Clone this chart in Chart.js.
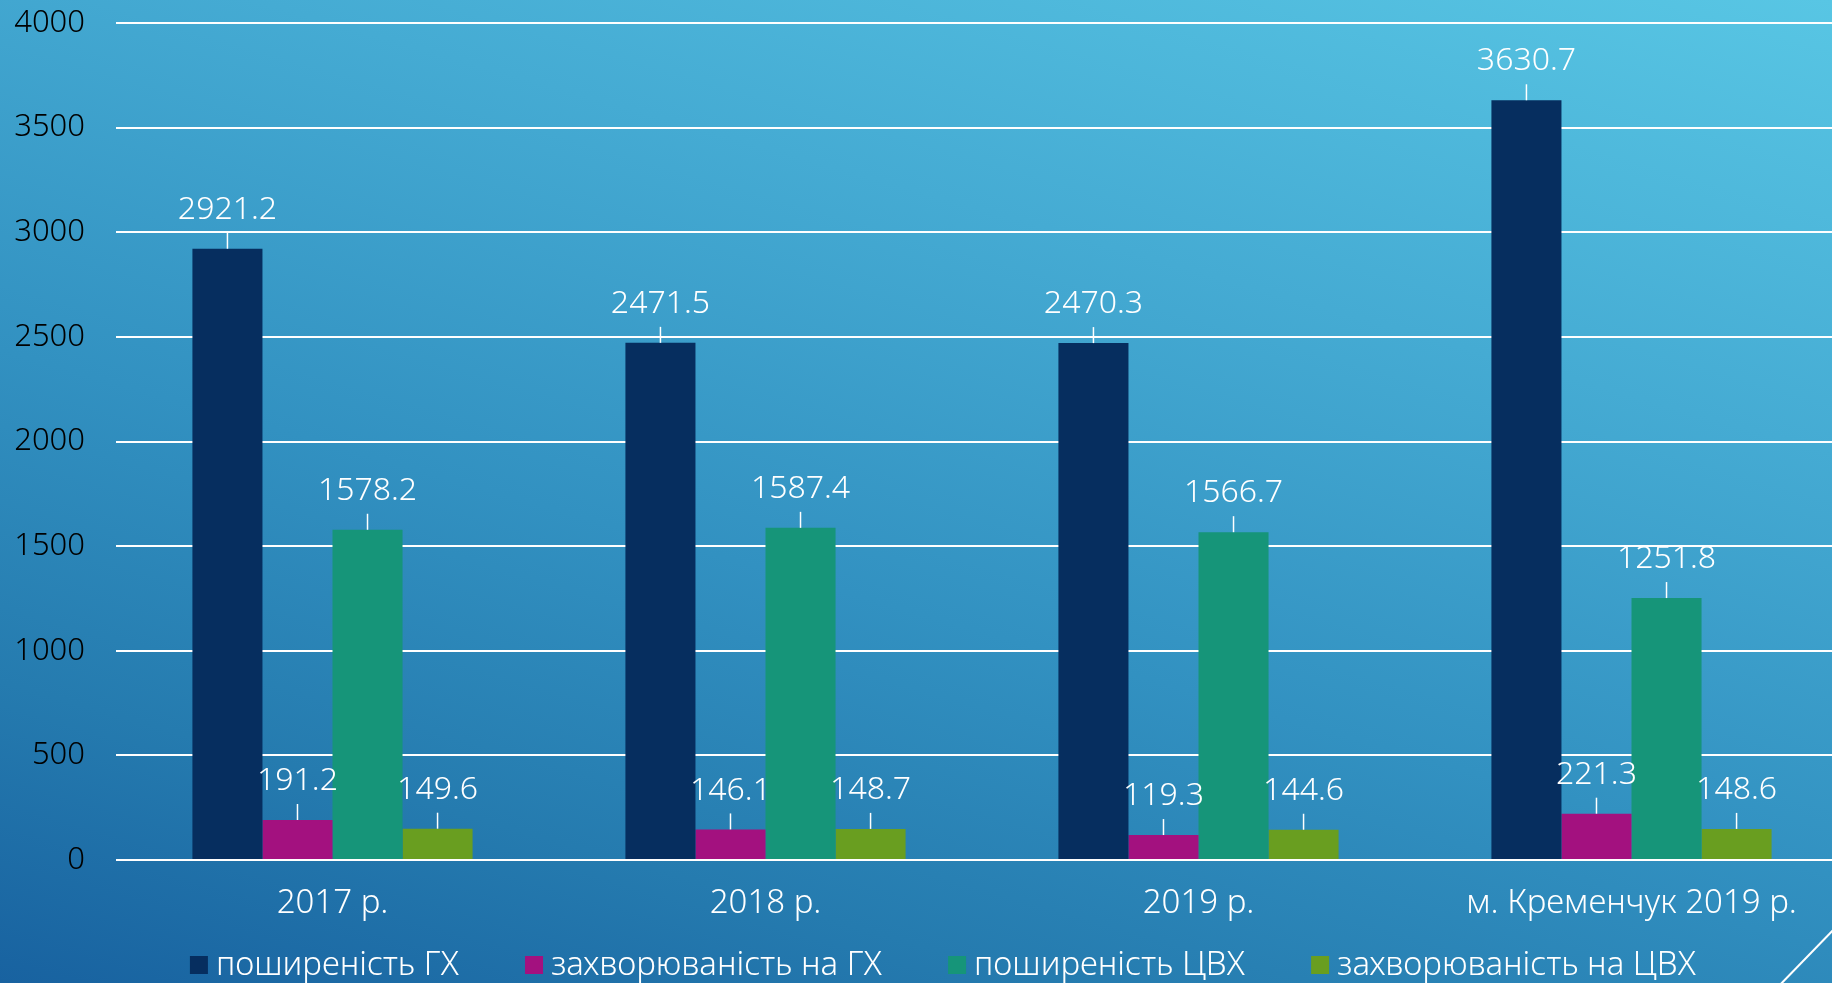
<!DOCTYPE html>
<html lang="uk">
<head>
<meta charset="utf-8">
<title>Поширеність і захворюваність на ГХ та ЦВХ</title>
<script src="https://cdn.jsdelivr.net/npm/chart.js@4/dist/chart.umd.min.js"></script>
<style>
  html, body {
    margin: 0;
    padding: 0;
    width: 100%;
    height: 100%;
    overflow: hidden;
  }
  html {
    background: linear-gradient(196deg, #58C6E4 0%, #45ABD3 30%, #3291C1 58%, #257BAF 80%, #1862A0 100%);
  }
  #wrap {
    position: absolute;
    left: 0;
    top: 0;
    width: 1860px;
    height: 1000px;
  }
</style>
</head>
<body>
<div id="wrap"><canvas id="chart"></canvas></div>
<script>
// Categories (x axis)
const categories = ['2017 р.', '2018 р.', '2019 р.', 'м. Кременчук 2019 р.'];

// Series names
const seriesNames = [
  'поширеність ГХ',
  'захворюваність на ГХ',
  'поширеність ЦВХ',
  'захворюваність на ЦВХ'
];

// Series values
const prevalenceGH = [2921.2, 2471.5, 2470.3, 3630.7];
const incidenceGH = [191.2, 146.1, 119.3, 221.3];
const prevalenceCVD = [1578.2, 1587.4, 1566.7, 1251.8];
const incidenceCVD = [149.6, 148.7, 144.6, 148.6];

// Value axis
const yMin = 0;
const yMax = 4000;
const yStep = 500;

const seriesColors = ['#062E5F', '#A3117F', '#169579', '#699E20'];

const FONT = '"Noto Sans", "DejaVu Sans", sans-serif';

// Value labels above each bar with a short leader line
const valueLabels = {
  id: 'valueLabels',
  afterDatasetsDraw(chart) {
    const ctx = chart.ctx;
    ctx.save();
    ctx.font = '300 32px ' + FONT;
    ctx.fillStyle = '#FFFFFF';
    ctx.strokeStyle = '#FFFFFF';
    ctx.lineWidth = 1.5;
    ctx.textAlign = 'center';
    ctx.textBaseline = 'middle';
    chart.data.datasets.forEach((ds, di) => {
      const meta = chart.getDatasetMeta(di);
      meta.data.forEach((bar, i) => {
        const v = ds.data[i];
        const top = bar.y;
        ctx.beginPath();
        ctx.moveTo(bar.x, top);
        ctx.lineTo(bar.x, top - 16);
        ctx.stroke();
        ctx.fillText(v.toFixed(1), bar.x, top - 39);
      });
    });
    ctx.restore();
  }
};

// Legend row below the category labels
const bottomLegend = {
  id: 'bottomLegend',
  afterDraw(chart) {
    const ctx = chart.ctx;
    const box = 18, gapText = 8, gapItem = 66;
    ctx.save();
    ctx.font = '300 33px ' + FONT;
    ctx.textBaseline = 'middle';
    ctx.textAlign = 'left';
    const items = chart.data.datasets.map(ds => ({
      label: ds.label,
      color: ds.backgroundColor,
      w: ctx.measureText(ds.label).width
    }));
    let total = 0;
    items.forEach((it, i) => {
      total += box + gapText + it.w + (i < items.length - 1 ? gapItem : 0);
    });
    const cx = 943;
    const y = 966;
    let x = cx - total / 2;
    items.forEach(it => {
      ctx.fillStyle = it.color;
      ctx.fillRect(x, y - box / 2 - 1, box, box);
      x += box + gapText;
      ctx.fillStyle = '#FFFFFF';
      ctx.fillText(it.label, x, y);
      x += it.w + gapItem;
    });
    ctx.restore();
  }
};

// Thin diagonal accent in the lower right corner
const cornerAccent = {
  id: 'cornerAccent',
  afterDraw(chart) {
    const ctx = chart.ctx;
    ctx.save();
    ctx.strokeStyle = '#FFFFFF';
    ctx.lineWidth = 2;
    ctx.beginPath();
    ctx.moveTo(1840, 923);
    ctx.lineTo(1774, 991);
    ctx.stroke();
    ctx.restore();
  }
};

const datasets = [prevalenceGH, incidenceGH, prevalenceCVD, incidenceCVD].map((values, i) => ({
  label: seriesNames[i],
  data: values,
  backgroundColor: seriesColors[i],
  borderWidth: 0,
  barPercentage: 1.0,
  categoryPercentage: 0.647
}));

new Chart(document.getElementById('chart'), {
  type: 'bar',
  data: { labels: categories, datasets },
  options: {
    responsive: true,
    maintainAspectRatio: false,
    animation: false,
    layout: { padding: { left: 0, right: 12, top: 23, bottom: 60 } },
    plugins: {
      legend: { display: false },
      tooltip: { enabled: false }
    },
    scales: {
      x: {
        grid: { display: false, drawTicks: false },
        border: { display: false },
        ticks: {
          color: '#FFFFFF',
          font: { family: FONT, size: 33, weight: 300 },
          padding: 24,
          maxRotation: 0,
          autoSkip: false
        },
        afterFit(scale) {
          scale.height = 80;
          scale.paddingLeft = 0;
          scale.paddingRight = 0;
        }
      },
      y: {
        min: yMin,
        max: yMax,
        grid: { color: '#FFFFFF', lineWidth: 2, drawTicks: false },
        border: { display: false },
        ticks: {
          stepSize: yStep,
          color: '#000000',
          font: { family: FONT, size: 31, weight: 300 },
          padding: 31,
          callback: (v) => String(v)
        },
        afterFit(scale) {
          scale.width = 116;
          scale.paddingTop = 0;
          scale.paddingBottom = 0;
        }
      }
    }
  },
  plugins: [valueLabels, bottomLegend, cornerAccent]
});
</script>
</body>
</html>
